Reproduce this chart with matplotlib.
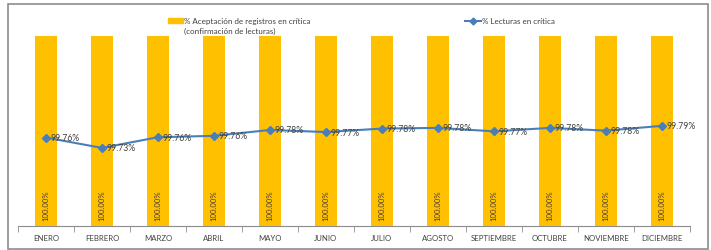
import matplotlib.pyplot as plt
import matplotlib.patches as patches
from matplotlib.lines import Line2D
import numpy as np

plt.rcParams['font.family'] = ['Lato', 'DejaVu Sans']

months = ["ENERO", "FEBRERO", "MARZO", "ABRIL", "MAYO", "JUNIO", "JULIO",
          "AGOSTO", "SEPTIEMBRE", "OCTUBRE", "NOVIEMBRE", "DICIEMBRE"]
aceptacion = [100.0] * 12
lecturas = [99.756, 99.726, 99.757, 99.761, 99.778, 99.772, 99.782,
            99.784, 99.774, 99.784, 99.776, 99.790]

BAR_COLOR = "#FFC000"
LINE_COLOR = "#4A7EBB"
TEXT_COLOR = "#404040"

fig = plt.figure(figsize=(7.11, 2.51), dpi=100)

# outer chart frame
fig.patches.append(patches.Rectangle((8 / 711, 1 - 250 / 251), 700 / 711, 245 / 251,
                                     transform=fig.transFigure, fill=False,
                                     edgecolor="#8c8c8c", linewidth=1.2))

ax = fig.add_axes([18 / 711, 1 - 227 / 251, 672 / 711, 190 / 251])
x = np.arange(len(months))
ax.bar(x, aceptacion, width=0.39, color=BAR_COLOR)
ax.set_xlim(-0.5, len(months) - 0.5)
ax.set_ylim(0, 100)
ax.set_yticks([])
for s in ["top", "right", "left"]:
    ax.spines[s].set_visible(False)
ax.spines["bottom"].set_color("#8c8c8c")
ax.set_xticks(x)
ax.set_xticklabels(months, fontsize=5.6, color=TEXT_COLOR)
ax.tick_params(axis="x", which="major", length=0, pad=6)
ax.set_xticks(np.arange(-0.5, len(months)), minor=True)
ax.tick_params(axis="x", which="minor", length=4, color="#8c8c8c")

for xi, v in zip(x, aceptacion):
    ax.text(xi, 3, f"{v:.2f}%", rotation=90, ha="center", va="bottom",
            fontsize=5.6, color=TEXT_COLOR)

ax2 = ax.twinx()
ax2.plot(x, lecturas, color=LINE_COLOR, linewidth=1.5, marker="D", markersize=4.5)
ax2.set_ylim(99.5, 100.05)
ax2.set_yticks([])
for s in ["top", "right", "left", "bottom"]:
    ax2.spines[s].set_visible(False)
for xi, v in zip(x, lecturas):
    ax2.annotate(f"{v:.2f}%", (xi, v), xytext=(3.5, 0), textcoords="offset points",
                 ha="left", va="center", fontsize=6.2, color=TEXT_COLOR)

# legend
fig.patches.append(patches.Rectangle((168 / 711, 1 - 24 / 251), 15 / 711, 5 / 251,
                                     transform=fig.transFigure, color=BAR_COLOR))
fig.text(184 / 711, 1 - 21.5 / 251, "% Aceptación de registros en crítica",
         fontsize=5.8, color=TEXT_COLOR, va="center")
fig.text(184 / 711, 1 - 31 / 251, "(confirmación de lecturas)",
         fontsize=5.8, color=TEXT_COLOR, va="center")
fig.lines.append(Line2D([465 / 711, 481 / 711], [1 - 21.5 / 251] * 2,
                        transform=fig.transFigure, color=LINE_COLOR, linewidth=1.5))
fig.lines.append(Line2D([473 / 711], [1 - 21.5 / 251], transform=fig.transFigure,
                        color=LINE_COLOR, marker="D", markersize=3.5))
fig.text(482 / 711, 1 - 21.5 / 251, "% Lecturas en crítica",
         fontsize=5.8, color=TEXT_COLOR, va="center")

fig.savefig("out.png", dpi=100)
